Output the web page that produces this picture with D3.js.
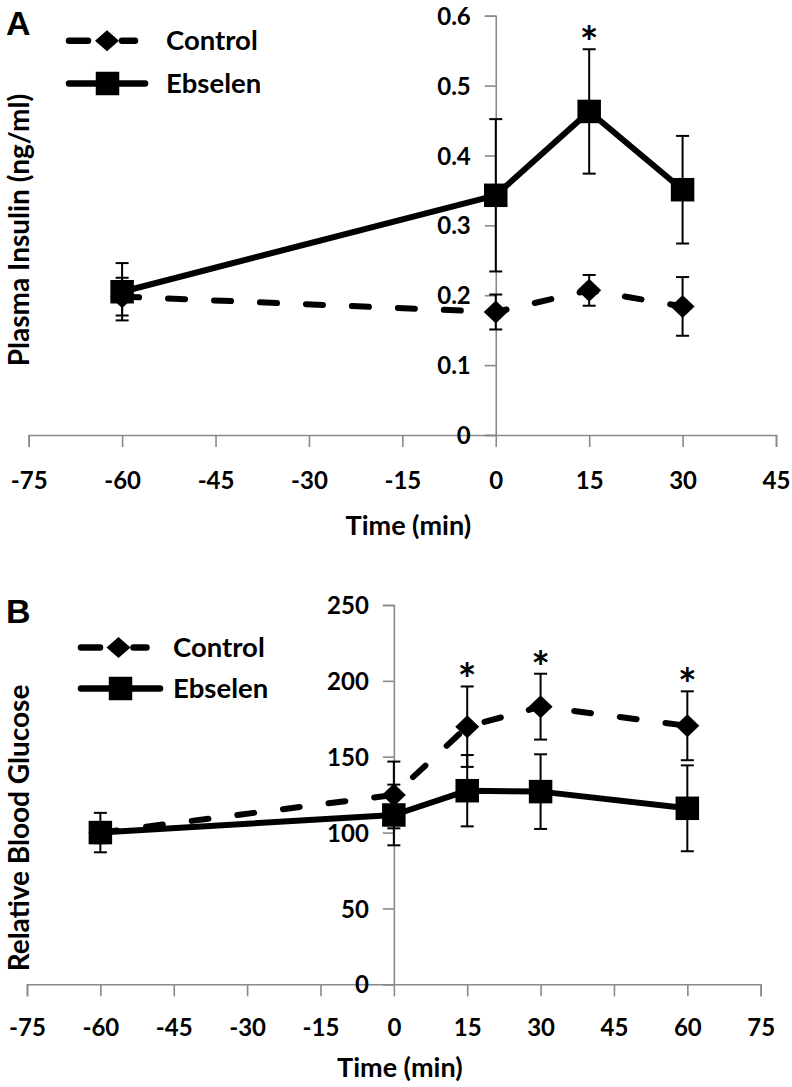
<!DOCTYPE html>
<html>
<head>
<meta charset="utf-8">
<script src="https://cdn.jsdelivr.net/npm/d3@7/dist/d3.min.js"></script>
<style>
  html, body { margin: 0; padding: 0; background: #fff; }
  svg { display: block; }
  text { font-family: Lato, "Open Sans", sans-serif; font-weight: bold; fill: #000; }
</style>
</head>
<body>
<script>
// ---------- DATA ----------
const seriesNames = ["Control", "Ebselen"];

// Panel A: Plasma insulin (ng/ml)
const timesA = [-60, 0, 15, 30];
const controlA = [0.198, 0.176, 0.207, 0.184];
const controlAErr = [0.027, 0.025, 0.022, 0.042];
const ebselenA = [0.205, 0.343, 0.463, 0.351];
const ebselenAErr = [0.041, 0.109, 0.089, 0.077];
const sigA = [{ t: 15, series: "Ebselen" }];
const xTicksA = [-75, -60, -45, -30, -15, 0, 15, 30, 45];
const yTicksA = [0, 0.1, 0.2, 0.3, 0.4, 0.5, 0.6];

// Panel B: Relative blood glucose
const timesB = [-60, 0, 15, 30, 60];
const controlB = [100, 124.8, 169.8, 183, 170.4];
const controlBErr = [7, 22, 26.5, 21.7, 22.7];
const ebselenB = [100, 111.6, 127.6, 127, 116];
const ebselenBErr = [13, 20, 23.5, 24.6, 28.3];
const sigB = [{ t: 15, series: "Control" }, { t: 30, series: "Control" }, { t: 60, series: "Control" }];
const xTicksB = [-75, -60, -45, -30, -15, 0, 15, 30, 45, 60, 75];
const yTicksB = [0, 50, 100, 150, 200, 250];

// ---------- DRAW ----------
const W = 792, H = 1087;
const svg = d3.select("body").append("svg").attr("width", W).attr("height", H);

const AXIS_COLOR = "#8a8a8a";

function diamondPath(w, h) {
  return `M0,${-h}L${w},0L0,${h}L${-w},0Z`;
}

function drawPanel(cfg) {
  const g = svg.append("g");
  const x = d3.scaleLinear().domain(cfg.xDomain).range(cfg.xRange);
  const y = d3.scaleLinear().domain(cfg.yDomain).range(cfg.yRange);

  // x axis at y = 0
  const xAxis = d3.axisBottom(x).tickValues(cfg.xTicks).tickSize(12).tickPadding(0)
    .tickFormat(d => String(d));
  const xG = g.append("g").attr("transform", `translate(0,${y(0)})`).call(xAxis);
  xG.select(".domain").attr("stroke", AXIS_COLOR).attr("stroke-width", 1.6);
  xG.selectAll(".tick line").attr("stroke", AXIS_COLOR).attr("stroke-width", 1.6);
  xG.selectAll(".tick text").style("font-size", "24px").attr("y", cfg.xLabelOffset).attr("dy", "0.36em");

  // y axis at x = 0
  const yAxis = d3.axisLeft(y).tickValues(cfg.yTicks).tickSize(11).tickPadding(14)
    .tickFormat(d => String(d));
  const yG = g.append("g").attr("transform", `translate(${x(0)},0)`).call(yAxis);
  yG.select(".domain").attr("stroke", AXIS_COLOR).attr("stroke-width", 1.6);
  yG.selectAll(".tick line").attr("stroke", AXIS_COLOR).attr("stroke-width", 1.6);
  yG.selectAll(".tick text").style("font-size", "24px").attr("dy", "0.36em");

  // axis titles
  g.append("text").attr("x", (cfg.xRange[0] + cfg.xRange[1]) / 2 + 6).attr("y", cfg.xTitleY)
    .attr("text-anchor", "middle").style("font-size", "27px").text("Time (min)");
  g.append("text").attr("transform", `translate(${cfg.yTitleX},${cfg.yTitleY}) rotate(-90)`)
    .attr("text-anchor", "middle").style("font-size", cfg.yTitleSize).text(cfg.yTitle);

  // panel letter
  g.append("text").attr("x", 6).attr("y", cfg.letterY)
    .style("font-family", "'Liberation Sans', Arial, sans-serif").style("font-size", "34px")
    .text(cfg.letter);

  const series = [
    { name: "Control", t: cfg.times, v: cfg.control, e: cfg.controlErr, dashed: true },
    { name: "Ebselen", t: cfg.times, v: cfg.ebselen, e: cfg.ebselenErr, dashed: false }
  ];

  const line = d3.line().x(d => x(d[0])).y(d => y(d[1]));

  series.forEach(s => {
    const pts = s.t.map((t, i) => [t, s.v[i], s.e[i]]);
    const sg = g.append("g");
    // error bars
    const eb = sg.selectAll(".eb").data(pts).enter().append("g");
    eb.append("line").attr("x1", d => x(d[0])).attr("x2", d => x(d[0]))
      .attr("y1", d => y(d[1] - d[2])).attr("y2", d => y(d[1] + d[2]))
      .attr("stroke", "#000").attr("stroke-width", 2);
    [1, -1].forEach(sgn => {
      eb.append("line").attr("x1", d => x(d[0]) - 6.5).attr("x2", d => x(d[0]) + 6.5)
        .attr("y1", d => y(d[1] + sgn * d[2])).attr("y2", d => y(d[1] + sgn * d[2]))
        .attr("stroke", "#000").attr("stroke-width", 2);
    });
    // line
    sg.append("path").datum(pts).attr("d", line).attr("fill", "none")
      .attr("stroke", "#000").attr("stroke-width", 6)
      .attr("stroke-linecap", "round").attr("stroke-linejoin", "round")
      .attr("stroke-dasharray", s.dashed ? "17,29" : null);
    // markers
    if (s.dashed) {
      sg.selectAll(".mk").data(pts).enter().append("path")
        .attr("d", diamondPath(12, 11.5))
        .attr("transform", d => `translate(${x(d[0])},${y(d[1])})`).attr("fill", "#000");
    } else {
      sg.selectAll(".mk").data(pts).enter().append("rect")
        .attr("x", d => x(d[0]) - 11.75).attr("y", d => y(d[1]) - 11.75)
        .attr("width", 23.5).attr("height", 23.5).attr("fill", "#000");
    }
  });

  // significance asterisks
  cfg.sig.forEach(sg => {
    const s = series.find(q => q.name === sg.series);
    const i = s.t.indexOf(sg.t);
    g.append("text").attr("x", x(sg.t)).attr("y", y(s.v[i] + s.e[i]) + 9)
      .attr("text-anchor", "middle").style("font-size", "44px").text("*");
  });

  // legend
  const L = cfg.legend;
  // control entry
  g.append("line").attr("x1", L.x0).attr("x2", L.x0 + 19).attr("y1", L.y1).attr("y2", L.y1)
    .attr("stroke", "#000").attr("stroke-width", 6.5).attr("stroke-linecap", "round");
  g.append("line").attr("x1", L.cx + 15).attr("x2", L.cx + 28).attr("y1", L.y1).attr("y2", L.y1)
    .attr("stroke", "#000").attr("stroke-width", 6.5).attr("stroke-linecap", "round");
  g.append("path").attr("d", diamondPath(12, 10.5)).attr("transform", `translate(${L.cx},${L.y1})`).attr("fill", "#000");
  g.append("text").attr("x", L.tx).attr("y", L.y1 + 9).style("font-size", "27.5px").text(seriesNames[0]);
  // ebselen entry
  g.append("line").attr("x1", L.x0).attr("x2", L.x0 + L.len2).attr("y1", L.y2).attr("y2", L.y2)
    .attr("stroke", "#000").attr("stroke-width", 6.5).attr("stroke-linecap", "round");
  g.append("rect").attr("x", L.cx2 - 11.75).attr("y", L.y2 - 11.75).attr("width", 23.5).attr("height", 23.5).attr("fill", "#000");
  g.append("text").attr("x", L.tx).attr("y", L.y2 + 9).style("font-size", "27.5px").text(seriesNames[1]);
}

drawPanel({
  letter: "A", letterY: 35,
  xDomain: [-75, 45], xRange: [28.7, 776],
  yDomain: [0, 0.6], yRange: [435, 15.7],
  xTicks: xTicksA, yTicks: yTicksA, xLabelOffset: 45,
  xTitleY: 535, yTitle: "Plasma Insulin (ng/ml)", yTitleSize: "28px", yTitleX: 29, yTitleY: 230,
  times: timesA, control: controlA, controlErr: controlAErr, ebselen: ebselenA, ebselenErr: ebselenAErr,
  sig: sigA,
  legend: { x0: 69, cx: 107, y1: 40.7, y2: 83.5, len2: 76, cx2: 107.5, tx: 166 }
});

drawPanel({
  letter: "B", letterY: 623,
  xDomain: [-75, 75], xRange: [27, 760.7],
  yDomain: [0, 250], yRange: [984.3, 605],
  xTicks: xTicksB, yTicks: yTicksB, xLabelOffset: 43,
  xTitleY: 1077, yTitle: "Relative Blood Glucose", yTitleSize: "28px", yTitleX: 29, yTitleY: 828,
  times: timesB, control: controlB, controlErr: controlBErr, ebselen: ebselenB, ebselenErr: ebselenBErr,
  sig: sigB,
  legend: { x0: 81, cx: 118.5, y1: 647.5, y2: 688.5, len2: 79, cx2: 120.5, tx: 173 }
});
</script>
</body>
</html>
